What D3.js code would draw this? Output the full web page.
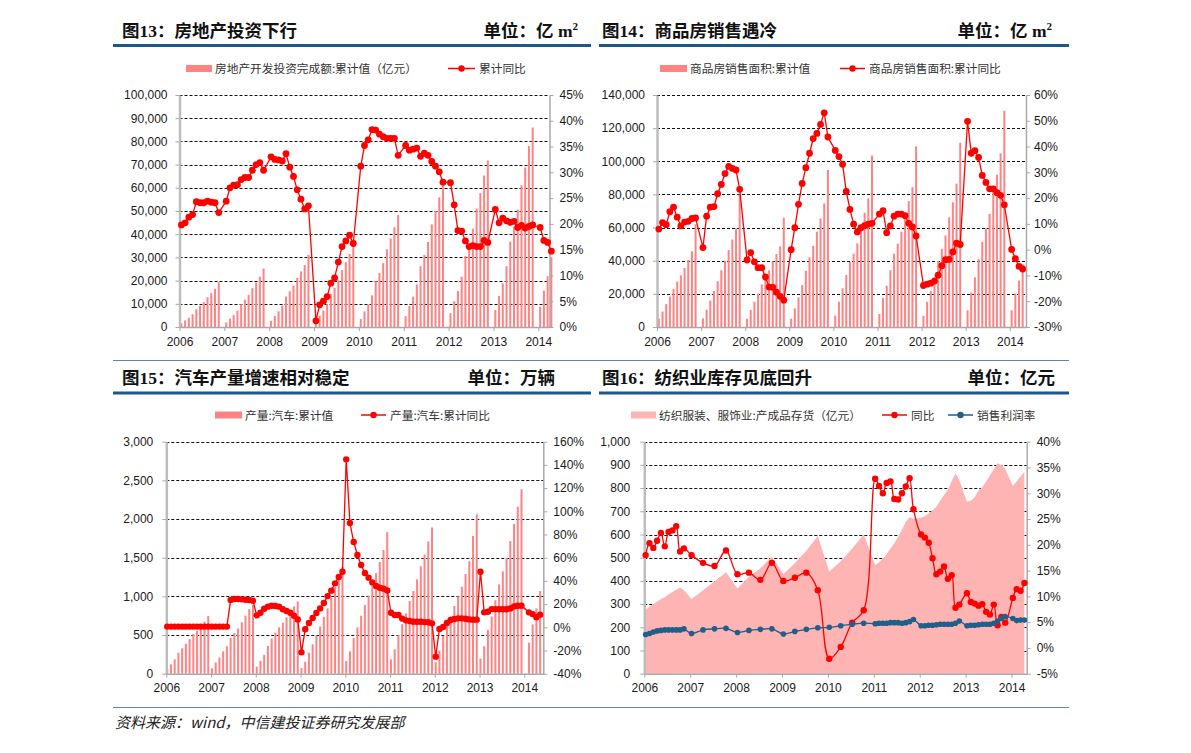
<!DOCTYPE html>
<html lang="zh">
<head>
<meta charset="utf-8">
<title>图13-16</title>
<script src="https://d3js.org/d3.v7.min.js"></script>
<style>
  body { margin: 0; background: #fff; }
</style>
</head>
<body>
<svg id="page" width="1191" height="753"></svg>
<script>
// ---------- data ----------
var yearTicks = [2006, 2007, 2008, 2009, 2010, 2011, 2012, 2013, 2014];

// 图13 / 图14 : monthly cumulative (Jan+Feb reported together)
var houseMonths = [
  "2006-02","2006-03","2006-04","2006-05","2006-06","2006-07","2006-08","2006-09","2006-10","2006-11","2006-12",
  "2007-02","2007-03","2007-04","2007-05","2007-06","2007-07","2007-08","2007-09","2007-10","2007-11","2007-12",
  "2008-02","2008-03","2008-04","2008-05","2008-06","2008-07","2008-08","2008-09","2008-10","2008-11","2008-12",
  "2009-02","2009-03","2009-04","2009-05","2009-06","2009-07","2009-08","2009-09","2009-10","2009-11","2009-12",
  "2010-02","2010-03","2010-04","2010-05","2010-06","2010-07","2010-08","2010-09","2010-10","2010-11","2010-12",
  "2011-02","2011-03","2011-04","2011-05","2011-06","2011-07","2011-08","2011-09","2011-10","2011-11","2011-12",
  "2012-02","2012-03","2012-04","2012-05","2012-06","2012-07","2012-08","2012-09","2012-10","2012-11","2012-12",
  "2013-02","2013-03","2013-04","2013-05","2013-06","2013-07","2013-08","2013-09","2013-10","2013-11","2013-12",
  "2014-02","2014-03","2014-04","2014-05"
];
var investValue = [
  1580, 2830, 4020, 5510, 7650, 9140, 10710, 12850, 14580, 16470, 19330,
  1970, 3600, 5130, 7030, 9840, 11790, 13820, 16750, 19170, 21730, 25210,
  2620, 4770, 6790, 9290, 13140, 15440, 17850, 21200, 23920, 26710, 31140,
  2650, 4970, 7130, 9840, 14260, 16910, 20100, 24510, 27910, 31470, 36180,
  3470, 6720, 9720, 13610, 19710, 23240, 27520, 33480, 38130, 42990, 48230,
  4690, 9030, 13070, 18330, 26240, 31070, 36690, 44230, 50020, 55930, 61780,
  5990, 11150, 15520, 21720, 30590, 35850, 42410, 51040, 57720, 65270, 71790,
  7350, 13400, 18800, 26200, 36800, 43200, 50600, 61100, 68800, 78000, 86000,
  8800, 15650, 21900, 30100
];
var investYoy = [
  19.8, 20.2, 21.3, 21.8, 24.3, 24.1, 24.1, 24.4, 24.2, 24.1, 22.2,
  24.4, 27.0, 27.5, 27.6, 28.6, 29.0, 29.0, 30.4, 31.5, 31.9, 30.4,
  33.0, 32.5, 32.4, 32.2, 33.6, 31.0, 29.2, 26.6, 24.8, 22.9, 23.5,
  1.2, 4.3, 5.0, 5.9, 8.5, 9.5, 12.6, 15.6, 16.7, 17.8, 16.2,
  31.2, 35.2, 36.3, 38.3, 38.2, 37.4, 36.9, 36.6, 36.6, 36.6, 33.3,
  35.2, 34.3, 34.5, 34.7, 33.1, 33.7, 33.3, 32.1, 31.2, 30.1, 28.1,
  28.0, 23.7, 18.7, 18.6, 16.7, 15.6, 15.8, 15.6, 15.6, 16.8, 16.4,
  22.8, 20.2, 21.1, 20.6, 20.3, 20.5, 19.3, 19.7, 19.2, 19.5, 19.8,
  19.3, 16.8, 16.4, 14.7
];
var salesValue = [
  5000, 9300, 13800, 18400, 23000, 27400, 31200, 35600, 40500, 45700, 62000,
  5210, 10450, 15970, 21650, 27660, 34200, 40050, 46400, 52790, 59410, 80000,
  5000, 10320, 15220, 20130, 25720, 30570, 34240, 39630, 44080, 48660, 65970,
  5000, 11200, 17900, 25300, 33900, 42000, 49000, 57500, 65500, 74500, 94800,
  6870, 15220, 23380, 31410, 39190, 44210, 50530, 60850, 68920, 77600, 103510,
  7820, 17520, 24920, 34300, 44290, 50310, 57500, 68880, 75950, 84430, 109000,
  6730, 15170, 21680, 30120, 39910, 47190, 55260, 66260, 75270, 86540, 111200,
  10080, 20840, 30000, 40900, 51400, 59500, 68300, 81900, 91900, 104800, 130550,
  10090, 20110, 28050, 37860
];
var salesYoy = [
  8.0, 10.5, 9.7, 14.7, 16.5, 12.6, 9.2, 10.7, 11.0, 12.1, 12.3,
  0.8, 13.0, 16.5, 16.7, 21.7, 25.3, 29.5, 32.3, 31.5, 30.9, 23.4,
  -4.0, -1.2, -4.7, -7.0, -7.0, -10.6, -14.5, -14.6, -16.5, -18.1, -19.6,
  0.0, 8.5, 17.6, 25.7, 31.8, 37.4, 43.1, 45.1, 48.6, 53.1, 43.7,
  38.5, 36.1, 33.1, 22.6, 15.6, 9.9, 6.9, 8.5, 9.3, 9.9, 10.2,
  13.8, 15.1, 6.6, 9.2, 13.0, 13.8, 13.8, 13.2, 10.2, 8.8, 5.3,
  -13.9, -13.4, -13.0, -12.2, -9.9, -6.2, -3.9, -3.8, -0.9, 2.5, 2.0,
  49.8, 37.4, 38.4, 35.8, 28.8, 26.1, 23.6, 23.6, 22.1, 21.1, 17.4,
  0.1, -3.5, -6.5, -7.5
];

// 图15 : monthly
var autoMonths = [
  "2006-01","2006-02","2006-03","2006-04","2006-05","2006-06","2006-07","2006-08","2006-09","2006-10","2006-11","2006-12",
  "2007-01","2007-02","2007-03","2007-04","2007-05","2007-06","2007-07","2007-08","2007-09","2007-10","2007-11","2007-12",
  "2008-01","2008-02","2008-03","2008-04","2008-05","2008-06","2008-07","2008-08","2008-09","2008-10","2008-11","2008-12",
  "2009-01","2009-02","2009-03","2009-04","2009-05","2009-06","2009-07","2009-08","2009-09","2009-10","2009-11","2009-12",
  "2010-01","2010-02","2010-03","2010-04","2010-05","2010-06","2010-07","2010-08","2010-09","2010-10","2010-11","2010-12",
  "2011-01","2011-02","2011-03","2011-04","2011-05","2011-06","2011-07","2011-08","2011-09","2011-10","2011-11","2011-12",
  "2012-01","2012-02","2012-03","2012-04","2012-05","2012-06","2012-07","2012-08","2012-09","2012-10","2012-11","2012-12",
  "2013-01","2013-02","2013-03","2013-04","2013-05","2013-06","2013-07","2013-08","2013-09","2013-10","2013-11","2013-12",
  "2014-02","2014-03","2014-04","2014-05"
];
var autoValue = [
  60, 121, 185, 272, 328, 388, 448, 513, 552, 608, 672, 746,
  70, 145, 210, 290, 355, 465, 525, 585, 665, 750, 835, 888,
  90, 165, 245, 360, 455, 530, 600, 660, 730, 800, 870, 935,
  73, 155, 270, 380, 495, 610, 735, 845, 985, 1120, 1250, 1379,
  164, 289, 461, 599, 750, 890, 1010, 1140, 1300, 1445, 1600, 1830,
  185, 315, 500, 640, 780, 940, 1070, 1220, 1390, 1540, 1710, 1890,
  150, 300, 490, 615, 740, 875, 1000, 1125, 1290, 1455, 1780, 2060,
  195, 355, 565, 740, 950, 1155, 1323, 1500, 1716, 1935, 2159, 2384,
  401, 638, 845, 1069
];
var autoYoy = [
  0.6, 0.6, 0.6, 0.6, 0.6, 0.6, 0.6, 0.6, 0.6, 0.6, 0.6, 0.6,
  0.6, 0.6, 0.6, 0.6, 0.6, 23.5, 24.4, 24.4, 24.1, 23.8, 23.5, 22.9,
  10.3, 12.6, 16.0, 17.8, 18.6, 18.3, 17.8, 15.5, 14.0, 12.6, 10.0, 6.8,
  -21.6, -1.7, 3.7, 8.0, 12.3, 16.3, 20.9, 26.9, 31.6, 37.9, 43.3, 47.9,
  144.8, 89.9, 73.5, 62.3, 53.7, 46.8, 42.8, 38.7, 35.6, 34.1, 33.3, 31.8,
  12.6, 10.6, 10.6, 7.5, 6.0, 5.4, 4.8, 4.8, 4.8, 4.5, 4.3, 3.4,
  -25.3, -1.4, 0.3, 3.7, 6.3, 7.1, 7.7, 7.7, 7.4, 6.8, 6.6, 6.6,
  47.9, 12.9, 13.4, 15.7, 15.7, 15.5, 15.5, 15.5, 16.3, 18.0, 18.6, 18.6,
  12.9, 11.4, 8.6, 10.9
];

// 图16 : monthly 2006, quarterly 2007-2010, monthly again from 2011
var textileMonths = [
  "2006-02","2006-03","2006-04","2006-05","2006-06","2006-07","2006-08","2006-09","2006-10","2006-11","2006-12",
  "2007-02","2007-05","2007-08","2007-11",
  "2008-02","2008-05","2008-08","2008-11",
  "2009-02","2009-05","2009-08","2009-11",
  "2010-02","2010-05","2010-08","2010-11",
  "2011-02","2011-03","2011-04","2011-05","2011-06","2011-07","2011-08","2011-09","2011-10","2011-11","2011-12",
  "2012-02","2012-03","2012-04","2012-05","2012-06","2012-07","2012-08","2012-09","2012-10","2012-11","2012-12",
  "2013-02","2013-03","2013-04","2013-05","2013-06","2013-07","2013-08","2013-09","2013-10","2013-11","2013-12",
  "2014-02","2014-03","2014-04","2014-05"
];
var textileStock = [
  276, 290, 300, 310, 322, 330, 342, 352, 362, 372, 360,
  322, 360, 397, 437,
  367, 418, 455, 504,
  430, 476, 530, 593,
  440, 485, 540, 600,
  468, 480, 497, 515, 540, 562, 590, 620, 655, 674, 668,
  672, 680, 690, 705, 720, 745, 770, 792, 830, 863, 834,
  741, 745, 760, 790, 805, 828, 855, 880, 907, 900, 882,
  809, 830, 850, 871
];
var textileYoy = [
  18.0, 20.3, 19.4, 20.8, 22.3, 19.7, 22.5, 22.8, 23.6, 18.7, 19.3,
  18.0, 16.5, 15.9, 18.9,
  14.3, 14.6, 13.2, 16.5,
  13.0, 13.6, 14.6, 11.2,
  -2.1, 0.2, 4.9, 7.3,
  32.8, 31.4, 30.0, 32.0, 32.3, 28.9, 28.8, 30.0, 31.3, 32.9, 26.9,
  22.0, 21.4, 20.4, 17.4, 14.3, 14.8, 15.8, 13.4, 14.1, 7.8, 8.4,
  10.6, 8.9, 8.6, 8.2, 8.5, 7.0, 6.5, 8.4, 4.4, 6.0, 4.9,
  9.7, 11.4, 11.1, 12.6
];
var textileMargin = [
  2.6, 2.8, 3.1, 3.3, 3.4, 3.5, 3.5, 3.5, 3.5, 3.5, 3.7,
  2.8, 3.5, 3.7, 3.8,
  3.0, 3.4, 3.6, 3.7,
  2.7, 3.2, 3.6, 3.9,
  4.0, 4.3, 4.6, 4.8,
  4.7, 4.8, 4.8, 4.8, 4.9, 4.9, 4.9, 4.8, 4.9, 5.1, 5.5,
  4.3, 4.3, 4.4, 4.4, 4.5, 4.6, 4.6, 4.6, 4.6, 4.8, 5.2,
  4.3, 4.4, 4.4, 4.5, 4.6, 4.6, 4.6, 4.8, 5.2, 5.7, 6.1,
  5.7, 5.3, 5.4, 5.4
];

// ---------- drawing ----------
var svg = d3.select("#page");
var CJK = "'Noto Sans CJK SC', sans-serif";
var TITLE = "'Liberation Serif', 'Noto Sans CJK SC', serif";
var NUM = "'Liberation Sans', Arial, sans-serif";
var RED = "#ff0000", BLUE = "#1f5f8b", BAR = "#ff8383", AREA = "#ffb4b4", GREY = "#a9a9a9";

function frac(key, off) {
  var p = key.split("-");
  return +p[0] + (+p[1] - off) / 12;
}

function makePanel(p) {
  var s = {};
  s.x = d3.scaleLinear().domain(p.xDomain).range([p.left, p.right]);
  s.yL = d3.scaleLinear().domain([p.leftTicks[0], p.leftTicks[p.leftTicks.length - 1]]).range([p.bottom, p.top]);
  s.yR = d3.scaleLinear().domain([p.rightTicks[0], p.rightTicks[p.rightTicks.length - 1]]).range([p.bottom, p.top]);
  s.px = function(k) { return s.x(frac(k, p.offset)); };
  // dashed gridlines at the left-axis ticks
  svg.append("g").selectAll("line").data(p.leftTicks.slice(1)).join("line")
    .attr("x1", p.left).attr("x2", p.right)
    .attr("y1", function(d) { return Math.round(s.yL(d)) + 0.5; })
    .attr("y2", function(d) { return Math.round(s.yL(d)) + 0.5; })
    .attr("stroke", "#111").attr("stroke-width", 1).attr("stroke-dasharray", "3,2");
  return s;
}

function drawAxes(p, s) {
  var gl = svg.append("g").attr("transform", "translate(" + p.left + ",0)")
    .call(d3.axisLeft(s.yL).tickValues(p.leftTicks).tickFormat(d3.format(",")).tickSize(4).tickSizeOuter(0).tickPadding(p.lpad));
  var gr = svg.append("g").attr("transform", "translate(" + p.right + ",0)")
    .call(d3.axisRight(s.yR).tickValues(p.rightTicks).tickFormat(function(d) { return d + "%"; }).tickSize(4).tickSizeOuter(0).tickPadding(p.rpad));
  var gb = svg.append("g").attr("transform", "translate(0," + p.bottom + ")")
    .call(d3.axisBottom(s.x).tickValues(yearTicks).tickFormat(d3.format("d")).tickSize(4).tickSizeOuter(0).tickPadding(6));
  [gl, gr, gb].forEach(function(a) {
    a.selectAll("text").attr("font-size", 12).attr("fill", "#1a1a1a").attr("font-family", NUM);
    a.selectAll(".tick line").attr("stroke", GREY);
    a.select(".domain").attr("stroke", GREY).attr("stroke-width", 1.5);
  });
  gl.select(".domain").attr("stroke-width", 2.5).attr("stroke", "#bdbdbd");
}

function drawBars(s, p, months, vals) {
  svg.append("g").selectAll("rect").data(months).join("rect")
    .attr("x", function(d) { return s.px(d) - 1; })
    .attr("width", 2)
    .attr("y", function(d, i) { return s.yL(vals[i]); })
    .attr("height", function(d, i) { return s.yL(0) - s.yL(vals[i]); })
    .attr("fill", BAR);
}

function drawLine(s, months, vals, color, r, curve) {
  var line = d3.line()
    .x(function(d) { return s.px(d); })
    .y(function(d, i) { return s.yR(vals[i]); })
    .curve(curve || d3.curveLinear);
  svg.append("path").datum(months).attr("d", line)
    .attr("fill", "none").attr("stroke", color).attr("stroke-width", 1.3);
  svg.append("g").selectAll("circle").data(months).join("circle")
    .attr("cx", function(d) { return s.px(d); })
    .attr("cy", function(d, i) { return s.yR(vals[i]); })
    .attr("r", r).attr("fill", color);
}

function header(x0, x1, y, title, unit, sup) {
  svg.append("text").attr("x", x0).attr("y", y).attr("font-family", TITLE)
    .attr("font-weight", "bold").attr("font-size", 17.5).attr("fill", "#111").text(title);
  var t = svg.append("text").attr("x", x1).attr("y", y).attr("text-anchor", "end")
    .attr("font-family", TITLE).attr("font-weight", "bold").attr("font-size", 17.5).attr("fill", "#111");
  t.append("tspan").text(unit);
  if (sup) t.append("tspan").attr("dy", -7).attr("font-size", 11).text(sup);
}

function rule(x0, x1, y, w, c) {
  svg.append("line").attr("x1", x0).attr("x2", x1).attr("y1", y).attr("y2", y)
    .attr("stroke", c).attr("stroke-width", w);
}

function legendSwatch(x, y, w, color, label) {
  svg.append("rect").attr("x", x).attr("y", y - 3.5).attr("width", w).attr("height", 7).attr("fill", color);
  svg.append("text").attr("x", x + w + 3).attr("y", y + 4.5).attr("font-family", CJK)
    .attr("font-size", 11.7).attr("fill", "#333").text(label);
}

function legendLine(x, y, w, color, label) {
  svg.append("line").attr("x1", x).attr("x2", x + w).attr("y1", y).attr("y2", y)
    .attr("stroke", color).attr("stroke-width", 1.5);
  svg.append("circle").attr("cx", x + w / 2).attr("cy", y).attr("r", 3.2).attr("fill", color);
  svg.append("text").attr("x", x + w + 4).attr("y", y + 4.5).attr("font-family", CJK)
    .attr("font-size", 11.7).attr("fill", "#333").text(label);
}

// ----- page furniture -----
header(122, 578, 37, "图13：房地产投资下行", "单位：亿 m", "2");
header(602, 1052, 37, "图14：商品房销售遇冷", "单位：亿 m", "2");
header(122, 555, 384, "图15：汽车产量增速相对稳定", "单位：万辆");
header(602, 1055, 384, "图16：纺织业库存见底回升", "单位：亿元");
rule(113, 591, 45.5, 3, "#1d578c");
rule(599, 1069, 45.5, 3, "#1d578c");
rule(113, 591, 393, 3, "#1d578c");
rule(599, 1069, 393, 3, "#1d578c");
rule(113, 1069, 360.5, 1, "#5b86b3");
rule(113, 1069, 707.5, 1, "#5b86b3");
svg.append("text").attr("x", 115).attr("y", 728).attr("font-family", CJK)
  .attr("font-style", "italic").attr("font-size", 15).attr("fill", "#222")
  .text("资料来源：wind，中信建投证券研究发展部");

// ----- 图13 -----
var p1 = { left: 179.5, right: 549.5, top: 95, bottom: 327, xDomain: [2006, 2014.25], offset: 1.5,
  leftTicks: d3.range(0, 100001, 10000), rightTicks: d3.range(0, 46, 5), lpad: 8, rpad: 6 };
var s1 = makePanel(p1);
drawBars(s1, p1, houseMonths, investValue);
drawAxes(p1, s1);
drawLine(s1, houseMonths, investYoy, RED, 3.4);
legendSwatch(186, 68.5, 26, BAR, "房地产开发投资完成额:累计值（亿元）");
legendLine(448, 68.5, 27, RED, "累计同比");

// ----- 图14 -----
var p2 = { left: 657, right: 1026, top: 95, bottom: 327, xDomain: [2006, 2014.367], offset: 1.5,
  leftTicks: d3.range(0, 140001, 20000), rightTicks: d3.range(-30, 61, 10), lpad: 8, rpad: 4 };
var s2 = makePanel(p2);
drawBars(s2, p2, houseMonths, salesValue);
drawAxes(p2, s2);
drawLine(s2, houseMonths, salesYoy, RED, 3.4);
legendSwatch(660, 68.5, 27, BAR, "商品房销售面积:累计值");
legendLine(840, 68.5, 25, RED, "商品房销售面积:累计同比");

// ----- 图15 -----
var p3 = { left: 166.3, right: 543.3, top: 441.7, bottom: 673.7, xDomain: [2006, 2014.425], offset: 0.75,
  leftTicks: d3.range(0, 3001, 500), rightTicks: d3.range(-40, 161, 20), lpad: 9, rpad: 6 };
var s3 = makePanel(p3);
drawBars(s3, p3, autoMonths, autoValue);
drawAxes(p3, s3);
drawLine(s3, autoMonths, autoYoy, RED, 3.2);
legendSwatch(215, 415, 27, BAR, "产量:汽车:累计值");
legendLine(361, 415, 25, RED, "产量:汽车:累计同比");

// ----- 图16 -----
var p4 = { left: 644.3, right: 1026.7, top: 441.7, bottom: 673.7, xDomain: [2006, 2014.33], offset: 1.65,
  leftTicks: d3.range(0, 1001, 100), rightTicks: d3.range(-5, 41, 5), lpad: 10, rpad: 6 };
var s4 = makePanel(p4);
var area = d3.area()
  .x(function(d) { return s4.px(d); })
  .y0(s4.yL(0))
  .y1(function(d, i) { return s4.yL(textileStock[i]); });
svg.append("path").datum(textileMonths).attr("d", area).attr("fill", AREA);
drawAxes(p4, s4);
drawLine(s4, textileMonths, textileYoy, RED, 3.2, d3.curveCatmullRom.alpha(0.5));
drawLine(s4, textileMonths, textileMargin, BLUE, 2.8, d3.curveCatmullRom.alpha(0.5));
legendSwatch(631, 415, 25, AREA, "纺织服装、服饰业:产成品存货（亿元）");
legendLine(882, 415, 25, RED, "同比");
legendLine(948, 415, 25, BLUE, "销售利润率");
</script>
</body>
</html>
